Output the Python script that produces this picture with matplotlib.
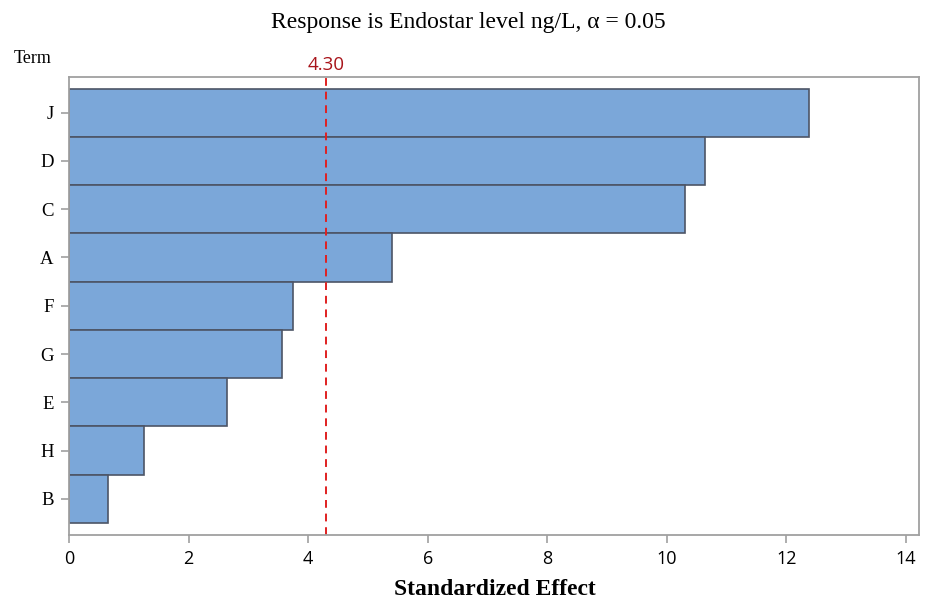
import matplotlib.pyplot as plt

terms = ['J', 'D', 'C', 'A', 'F', 'G', 'E', 'H', 'B']
effects = [12.38, 10.64, 10.30, 5.40, 3.74, 3.57, 2.64, 1.25, 0.66]
critical = 4.30
xticks = [0, 2, 4, 6, 8, 10, 12, 14]

fig = plt.figure(figsize=(9.28, 6), dpi=100)
ax = fig.add_axes([0.0744, 0.1083, 0.9159, 0.7634])

pos = list(range(len(terms)))[::-1]
ax.barh(pos, effects, height=1.0, color='#7ba7d9', edgecolor='#4d5566', linewidth=1.2)
ax.axvline(critical, color='#e02020', linestyle=(0, (4, 3)), linewidth=1.4)
ax.text(critical, 8.8, f'{critical:.2f}', color='#a8141a', ha='center', va='bottom',
        fontsize=13.5, family='Open Sans')

ax.set_xlim(0, 14.22)
ax.set_ylim(-0.75, 8.74)
ax.set_yticks(pos)
ax.set_yticklabels(terms, family='Liberation Serif', fontsize=13.5)
ax.set_xticks(xticks)
ax.set_xticklabels([str(t) for t in xticks], family='Open Sans', fontsize=13)

for s in ax.spines.values():
    s.set_color('#a0a0a0')
    s.set_linewidth(1.3)
ax.tick_params(direction='out', color='#a0a0a0', length=6, width=1.2, pad=5)

fig.text(0.533, 0.017, 'Standardized Effect', ha='center', va='center',
         family='Liberation Serif', fontweight='bold', fontsize=17)
fig.text(0.505, 0.963, 'Response is Endostar level ng/L, α = 0.05', ha='center', va='center',
         family='Liberation Serif', fontsize=17)
fig.text(0.015, 0.903, 'Term', ha='left', va='center', family='Liberation Serif', fontsize=13)

fig.savefig('out.png', dpi=100)
